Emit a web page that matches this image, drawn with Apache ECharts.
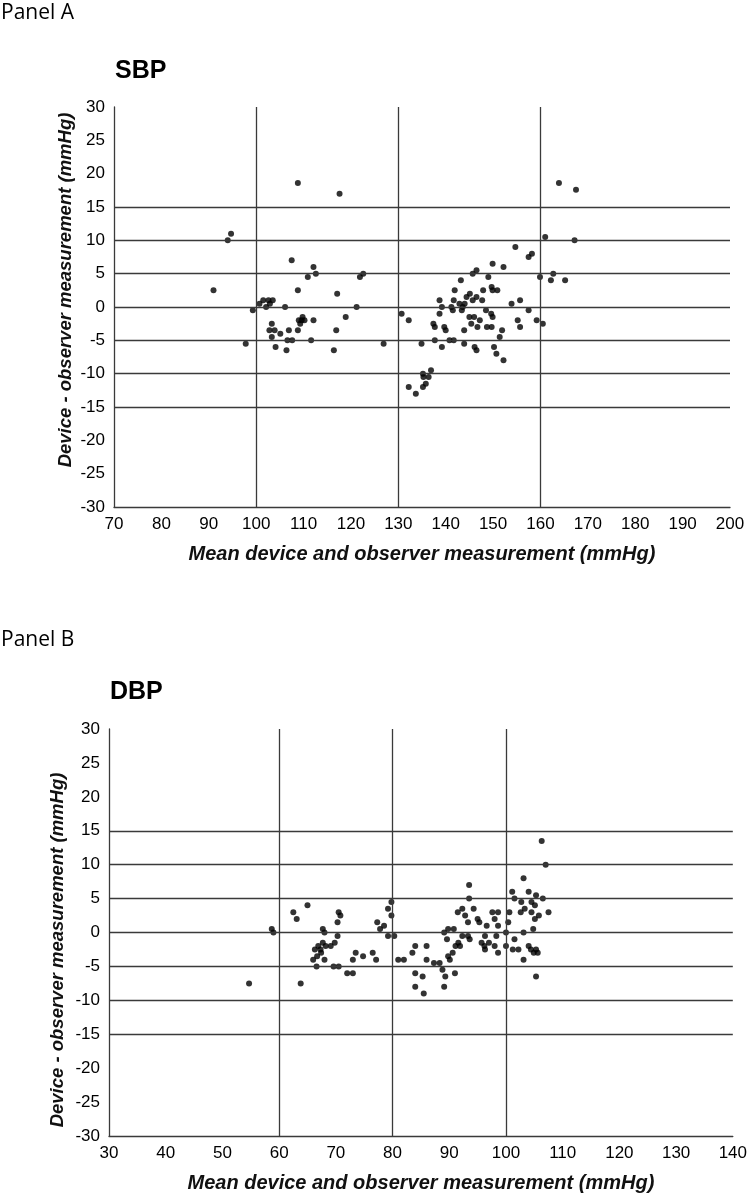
<!DOCTYPE html>
<html>
<head>
<meta charset="utf-8">
<script src="https://cdn.jsdelivr.net/npm/echarts@6/dist/echarts.min.js"></script>
<style>
html,body{margin:0;padding:0;background:#fff;}
#chart{width:750px;height:1196px;}
</style>
</head>
<body>
<div id="chart"></div>
<script>
// ---- Panel A: SBP ----
const sbpMean = [91,94,94.7,97.8,99.3,100.7,101.5,102.1,102.6,102.9,103.5,103.3,102.8,103.9,103.3,104.1,105.1,106.1,106.4,106.9,106.6,107.6,107.5,108.8,108.8,108.8,109,109.3,109.8,110.2,109.6,111.6,112.1,110.9,112.1,112.6,
117.6,117.1,116.9,116.4,118.9,121.2,121.9,122.6,126.9,130.7,132.2,132.2,133.7,134.9,135.2,135.3,136.4,136.9,135.8,135.2,137.4,137.7,137.7,138.7,138.7,139.2,139.2,139.7,140,140.8,141.7,141.2,141.5,141.7,141.9,142.9,143.4,143.6,144,143.9,143.9,143.2,144.4,145.1,145,145.4,145.7,146,146.5,145.7,146.5,146.7,146.1,146.5,147.2,147.7,147.9,148.5,148.7,149,149.6,149.9,149.7,149.9,150.9,149.9,149.7,150.2,150.7,151.4,151.9,152.2,152.2,153.9,154.7,155.2,155.7,155.7,157.5,158.2,157.5,159.2,159.9,160.5,161,162.2,162.7,163.9,165.2,167.2,167.5];
const sbpDiff = [2.5,10,11,-5.5,-0.5,0.5,1,0,1,0.5,1,-2.5,-3.5,-3.5,-4.5,-6,-4,0,-6.5,-3.5,-5,-5,7,18.6,2.5,-3.5,-2,-2.5,-1.5,-2,-2,-5,-2,4.5,6,5,
17,2,-3.5,-6.5,-1.5,0,4.5,5,-5.5,-1,-2,-12,-13,-5.5,-10,-10.5,-10.5,-9.5,-11.5,-12,-2.5,-3,-5,1,-1,0,-6,-3,-3.5,-5,-5,0,-0.5,1,2.5,0.5,-0.5,0,0.5,-3.5,-5.5,4,1.5,2,-1.5,-2.5,1,-1.5,1.5,5,5.5,-3,-6,-6.5,-2,1,2.5,-0.5,-3,4.5,-1,-1.5,3,2.5,2.5,6.5,-3,-6,-7,-4.5,-3.5,6,-8,0.5,9,-2,1,-3,7.5,8,-0.5,-2,4.5,-2.5,10.5,4,5,18.6,4,10,17.6];

// ---- Panel B: DBP ----
const dbpMean = [54.7,58.7,59,62.5,63.1,63.8,65,66,66.6,66.3,66.7,66.9,67.3,67.4,67.7,67.7,68,68,68.2,69.1,69.6,69.8,70.3,70.3,70.5,70.8,70.5,72,73,73,73.5,74.8,76.5,77.1,77.3,77.8,78.5,79.2,79.8,79.8,79.2,80.3,81,82,83.5,84,84,84,85.3,85.5,86,86,
87.3,88.3,88.8,89.3,89.1,89.1,89.6,89.8,90.8,89.8,90.1,90.6,91,91.1,91.6,91.9,91.5,92.3,92.8,93.3,92.3,93.3,93.6,93.5,93.5,94.3,95,95.3,95.7,96.2,96.3,96.3,96.6,97,97.6,98.6,98,98.6,98.3,98,98.6,100,100,100.4,100.6,101.1,101.5,101.2,101.5,102.2,103.1,102.7,102.6,103.3,103.1,103.1,104,104.5,104,104.4,104.5,104.8,104.9,105.1,105.1,105.3,105.3,105.6,105.3,105.8,106.3,106.5,107,107.5];
const dbpDiff = [-7.5,0.5,0,3,2,-7.5,4,-4,-5,-2.5,-3.5,-2,-2.5,-3,-1.5,0.5,0,-4,-2,-2,-5,-1.5,-0.5,1.5,3,2.5,-5,-6,-6,-4,-3,-3.5,-3,-4,1.5,0.5,1,3.5,4.5,2.5,-0.5,-0.5,-4,-4,-3,-2,-6,-8,-6.5,-9,-2,-4,
-4.5,-4.5,-5.5,-6.5,-8,0,-1,0.5,0.5,-3.5,-4,-3,-6,-2,-1.5,-2,3,3.5,2.5,1.5,-0.5,-0.5,-1,7,5,3.5,2,1.5,-1.5,-2,-2.5,-0.5,1,-1.5,3,3,2,1,-0.5,-2,-3,0,-2,1.5,3,6,5,-2.5,-1,-2.5,8,4.5,3,3.5,0,-4,6,4.5,-2,-2.5,3,0.5,-3,2,4,5.5,-2.5,-3,-6.5,2.5,13.5,5,10,3];

// reference lines
const gridYLines = [-15,-10,-5,0,5,10,15];
const sbpXLines = [100,130,160];
const dbpXLines = [60,80,100];

const FONT = '"Liberation Sans", Arial, sans-serif';
const LINE = '#3a3a3a';

function zip(a,b){ return a.map((v,i)=>[v,b[i]]); }

function xAx(idx,min,max){
  return {
    gridIndex: idx, type:'value', min:min, max:max, interval:10,
    name:'Mean device and observer measurement (mmHg)',
    nameLocation:'middle', nameGap:37,
    nameTextStyle:{fontFamily:FONT,fontSize:20,fontWeight:'bold',fontStyle:'italic',color:'#111'},
    axisLine:{show:true,onZero:false,lineStyle:{color:LINE,width:1.3}},
    axisTick:{show:false},
    splitLine:{show:false},
    axisLabel:{fontFamily:FONT,fontSize:17,color:'#000',margin:9,showMinLabel:true,showMaxLabel:true}
  };
}
function yAx(idx){
  return {
    gridIndex: idx, type:'value', min:-30, max:30, interval:5,
    axisLine:{show:true,onZero:false,lineStyle:{color:LINE,width:1.3}},
    axisTick:{show:false},
    splitLine:{show:false},
    axisLabel:{fontFamily:FONT,fontSize:17,color:'#000',margin:9}
  };
}
function refLines(idx,xs){
  return {
    type:'scatter', xAxisIndex:idx, yAxisIndex:idx, data:[], z:1, silent:true,
    markLine:{
      silent:true, symbol:['none','none'], animation:false,
      label:{show:false},
      lineStyle:{color:LINE,width:1.3,type:'solid'},
      emphasis:{disabled:true},
      data: xs.map(v=>({xAxis:v})).concat(gridYLines.map(v=>({yAxis:v})))
    }
  };
}
function pts(idx,data){
  return {
    type:'scatter', xAxisIndex:idx, yAxisIndex:idx, data:data, z:3,
    symbol:'circle', symbolSize:6, itemStyle:{color:'#000'}, silent:true, animation:false
  };
}

const chart = echarts.init(document.getElementById('chart'), null, {renderer:'canvas'});
chart.setOption({
  backgroundColor:'#fff',
  animation:false,
  grid:[
    {left:114, top:107, width:616, height:400},
    {left:109, top:729, width:627, height:407}
  ],
  xAxis:[xAx(0,70,200), xAx(1,30,140)],
  yAxis:[yAx(0), yAx(1)],
  series:[
    refLines(0,sbpXLines), pts(0, zip(sbpMean,sbpDiff)),
    refLines(1,dbpXLines), pts(1, zip(dbpMean,dbpDiff))
  ],
  graphic:[
    {type:'text', x:1, y:13, style:{text:'Panel A', font:'21px "Open Sans", sans-serif', fill:'#000', verticalAlign:'middle'}},
    {type:'text', x:115, y:71, style:{text:'SBP', font:'bold 25px ' + FONT, fill:'#000', verticalAlign:'middle'}},
    {type:'text', x:66, y:290, rotation:Math.PI/2, style:{text:'Device - observer measurement (mmHg)', font:'italic bold 18.5px ' + FONT, fill:'#111', align:'center', verticalAlign:'middle'}},
    {type:'text', x:1, y:640, style:{text:'Panel B', font:'21px "Open Sans", sans-serif', fill:'#000', verticalAlign:'middle'}},
    {type:'text', x:110, y:692, style:{text:'DBP', font:'bold 25px ' + FONT, fill:'#000', verticalAlign:'middle'}},
    {type:'text', x:58, y:950, rotation:Math.PI/2, style:{text:'Device - observer measurement (mmHg)', font:'italic bold 18.5px ' + FONT, fill:'#111', align:'center', verticalAlign:'middle'}}
  ]
});
</script>
</body>
</html>
